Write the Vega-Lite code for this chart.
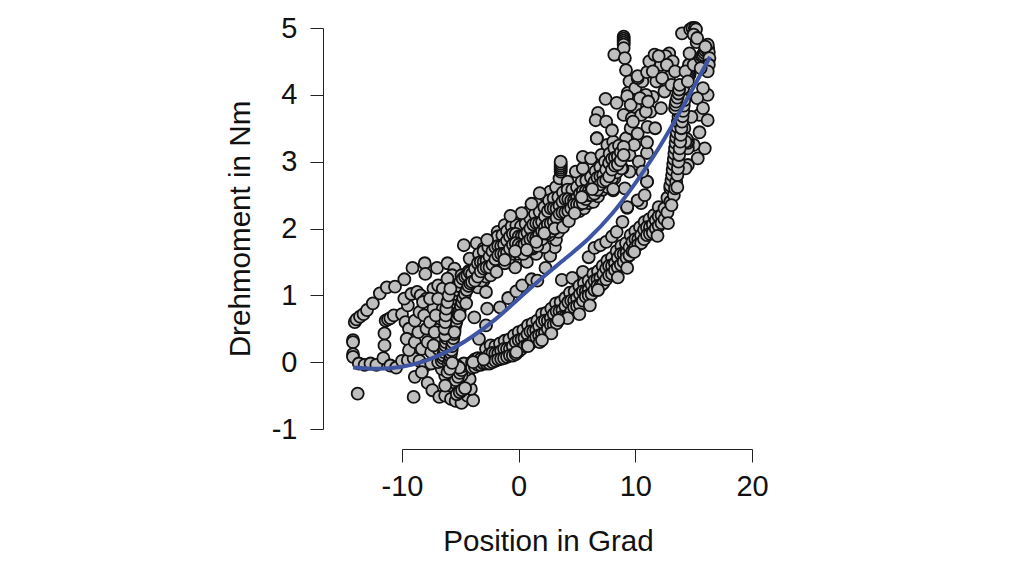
{"$schema":"https://vega.github.io/schema/vega-lite/v6.json","autosize":{"type":"none"},"padding":{"left":402,"top":28,"right":272,"bottom":147},"width":350,"height":401,"background":"white","config":{"view":{"stroke":null}},"datasets":{"pts":[
{"x":-14.05,"y":0.6},{"x":-13.9,"y":0.64},{"x":-13.6,"y":0.68},{"x":-13.3,"y":0.72},{"x":-13,"y":0.78},{"x":-12.5,"y":0.88},{"x":-11.9,"y":1.03},{"x":-11.3,"y":1.12},{"x":-10.6,"y":1.13},{"x":-9.8,"y":1.24},{"x":-9.1,"y":1.41},{"x":-8.05,"y":1.48},{"x":-8,"y":1.32},{"x":-7,"y":1.41},{"x":-6.1,"y":1.48},{"x":-5.5,"y":1.4},{"x":-4.7,"y":1.75},{"x":-3.6,"y":1.78},{"x":-4.2,"y":1.55},{"x":-3,"y":1.7},
{"x":-14.2,"y":0.33},{"x":-14.2,"y":0.3},{"x":-14.2,"y":0.12},{"x":-14.2,"y":0.08},{"x":-13.8,"y":-0.47},{"x":-9,"y":-0.52},{"x":-13.7,"y":-0.02},{"x":-13.2,"y":-0.04},{"x":-12.7,"y":-0.02},{"x":-12.2,"y":-0.04},{"x":-11.6,"y":0.06},{"x":-11,"y":-0.05},{"x":-10.5,"y":-0.08},{"x":-10,"y":0.02},{"x":-9.5,"y":0.03},{"x":-9,"y":0.06},{"x":-8.5,"y":0.02},{"x":-8,"y":-0.05},{"x":-7.5,"y":-0.02},
{"x":-11.5,"y":0.25},{"x":-11.5,"y":0.43},{"x":-11.4,"y":0.62},{"x":-11.2,"y":0.64},{"x":-11,"y":0.66},{"x":-10.7,"y":0.7},{"x":-10,"y":0.72},{"x":-9.5,"y":0.85},{"x":-9.8,"y":0.95},{"x":-9.2,"y":1.02},{"x":-8.7,"y":1.05},{"x":-8.4,"y":1},{"x":-7.9,"y":0.95},{"x":-7.3,"y":1.1},{"x":-6.9,"y":1.15},
{"x":-9.7,"y":0.6},{"x":-9.4,"y":0.5},{"x":-9.6,"y":0.35},{"x":-9.4,"y":0.18},{"x":-8.9,"y":0.3},{"x":-8.6,"y":0.45},{"x":-8.9,"y":0.62},{"x":-8.5,"y":0.75},{"x":-8.1,"y":0.7},{"x":-7.9,"y":0.5},{"x":-8.3,"y":0.2},{"x":-7.8,"y":0.3},{"x":-7.5,"y":0.15},{"x":-7.6,"y":0.6},{"x":-7.3,"y":0.8},
{"x":-7.8,"y":-0.31},{"x":-8.9,"y":-0.22},{"x":-8.3,"y":-0.15},{"x":-7.4,"y":-0.42},{"x":-6.8,"y":-0.52},{"x":-6.3,"y":-0.5},{"x":-5.8,"y":-0.55},{"x":-5.4,"y":-0.58},{"x":-4.9,"y":-0.61},{"x":-4.4,"y":-0.5},{"x":-3.9,"y":-0.57},{"x":-4.1,"y":-0.4},{"x":-4.6,"y":-0.38},{"x":-4.2,"y":-0.25},{"x":-4.5,"y":-0.12},{"x":-4.9,"y":-0.2},{"x":-5.2,"y":-0.3},{"x":-5.5,"y":-0.15},{"x":-5.6,"y":-0.06},{"x":-5.6,"y":-0.11},{"x":-5.5,"y":-0.2},{"x":-6,"y":-0.3},{"x":-6.3,"y":-0.2},{"x":-6.6,"y":-0.1},{"x":-6.9,"y":0},
{"x":-3.8,"y":0.67},{"x":-2.7,"y":0.8},{"x":-1.6,"y":0.82},{"x":-0.9,"y":0.96},{"x":-0.2,"y":1.06},{"x":0.3,"y":1.15},{"x":1.1,"y":1.24},{"x":1.6,"y":1.22},{"x":2.3,"y":1.41},{"x":2.7,"y":1.59},{"x":3.1,"y":1.72},{"x":3.2,"y":1.83},{"x":3.4,"y":1.95},{"x":3.7,"y":1.23},{"x":4.6,"y":1.26},{"x":5.5,"y":1.35},{"x":6,"y":1.57},{"x":6.5,"y":1.71},{"x":7,"y":1.75},{"x":7.5,"y":1.8},{"x":8,"y":1.88},{"x":8.4,"y":1.95},{"x":8.9,"y":2.1},{"x":9.3,"y":2.31},{"x":10.5,"y":2.38},{"x":10.2,"y":2.42},{"x":10.8,"y":2.5},{"x":11,"y":2.7},{"x":-2.8,"y":0.55},{"x":-3.4,"y":0.35},
{"x":-6.9,"y":0.2},{"x":-6.8,"y":0.35},{"x":-6.8,"y":0.5},{"x":-6.7,"y":0.65},{"x":-6.5,"y":0.8},{"x":-6.4,"y":0.95},{"x":-6.2,"y":1.05},{"x":-5.9,"y":1.2},{"x":-5.7,"y":1.3},{"x":-4.6,"y":1.2},{"x":-4.9,"y":1.3},{"x":-3.8,"y":1.35},{"x":-3.4,"y":1.42},{"x":-4.3,"y":1.36},{"x":-2.9,"y":1.5},{"x":-3.5,"y":1.12},{"x":-3,"y":1.22},{"x":-2.8,"y":1.05},
{"x":-1.8,"y":1.95},{"x":-1.2,"y":2.05},{"x":-0.5,"y":2.1},{"x":0.2,"y":2.18},{"x":1,"y":2.28},{"x":1.6,"y":2.38},{"x":2.2,"y":2.5},{"x":2.7,"y":2.55},{"x":3.2,"y":2.62},{"x":3.5,"y":2.75},{"x":4.2,"y":2.7},{"x":4.9,"y":2.85},{"x":5.5,"y":2.9},{"x":5.5,"y":3.07},{"x":6.2,"y":3.05},{"x":6.7,"y":3.35},{"x":7.1,"y":3.1},{"x":7.6,"y":3.25},{"x":8.1,"y":3.3},{"x":3.6,"y":2.85},{"x":3.6,"y":2.88},{"x":3.6,"y":2.91},{"x":3.6,"y":2.94},{"x":3.6,"y":2.97},{"x":3.6,"y":3},{"x":-0.3,"y":1.42},{"x":0.7,"y":1.5},{"x":1.5,"y":1.62},{"x":2.2,"y":1.72},{"x":1.2,"y":1.7},{"x":2.6,"y":1.9},
{"x":9,"y":4.87},{"x":9,"y":4.84},{"x":9,"y":4.81},{"x":9,"y":4.78},{"x":9,"y":4.75},{"x":9,"y":4.7},{"x":8.2,"y":4.6},{"x":9.1,"y":4.55},{"x":9.2,"y":4.37},{"x":9.5,"y":4.2},{"x":9.35,"y":4.03},{"x":10,"y":4.1},{"x":9.3,"y":3.98},{"x":7.45,"y":3.94},{"x":8.4,"y":3.88},{"x":9,"y":3.7},{"x":6.8,"y":3.73},{"x":6.6,"y":3.62},{"x":7.5,"y":3.6},{"x":8,"y":3.47},{"x":6.7,"y":3.35},{"x":8.5,"y":3.1},{"x":11,"y":2.7},{"x":9.3,"y":2.32},{"x":8.2,"y":2.75},{"x":8.1,"y":2.57},{"x":9.1,"y":2.6},{"x":9.5,"y":2.85},{"x":9.5,"y":3.1},{"x":9.2,"y":3.35},{"x":9.6,"y":3.5},{"x":9.7,"y":3.65},{"x":10,"y":3.82},{"x":9.6,"y":3.85},{"x":10.2,"y":3.42},{"x":9.9,"y":3.25},{"x":10.3,"y":3},{"x":8.9,"y":2.9},{"x":10.6,"y":2.85},{"x":11,"y":3.13},{"x":11,"y":3.29},{"x":11.05,"y":3.52},{"x":10.5,"y":3.7},{"x":11.3,"y":3.75},{"x":11.5,"y":3.97},{"x":10.9,"y":4},{"x":10.6,"y":4.2},{"x":10.2,"y":4.25},{"x":10.2,"y":4.28},{"x":11,"y":4.34},{"x":11.8,"y":4.2},{"x":11.2,"y":4.5},{"x":11.65,"y":4.6},{"x":12.2,"y":4.45},{"x":12.9,"y":4.27},{"x":12.5,"y":4.05},{"x":12.9,"y":4.62},{"x":12.6,"y":4.58},{"x":13.2,"y":4.5},{"x":12.2,"y":3.8},{"x":11.7,"y":3.5},{"x":9.8,"y":3.6},{"x":10.4,"y":3.95},{"x":10.9,"y":3.75},{"x":11.5,"y":4.35},{"x":12.3,"y":4.25},{"x":12.7,"y":4.45},{"x":11.1,"y":3.9},{"x":12,"y":4.58},{"x":13.4,"y":4.35},{"x":13.1,"y":4.15},
{"x":16.2,"y":4},{"x":15.8,"y":4.1},{"x":15.3,"y":3.95},{"x":15.5,"y":3.7},{"x":15.8,"y":3.8},{"x":16.2,"y":3.62},{"x":14.8,"y":3.67},{"x":15.5,"y":3.44},{"x":15.95,"y":3.2},{"x":15.35,"y":3.05},{"x":15,"y":3.25},{"x":14.5,"y":2.95},{"x":14.3,"y":2.9},{"x":14.5,"y":3.2},{"x":14.2,"y":3.5},{"x":14.1,"y":3.75},{"x":14.5,"y":3.28},{"x":14.5,"y":3.31},{"x":14.4,"y":3.34},{"x":14.3,"y":3.3},
{"x":-8.2,"y":0.9},{"x":-7.6,"y":0.95},{"x":-7.1,"y":0.7},{"x":-7.2,"y":0.45},{"x":-7.3,"y":0.25},{"x":-6.5,"y":1.1},{"x":-6.9,"y":0.95},{"x":-6.1,"y":1.25},
{"x":-6.6,"y":0.02},{"x":-6.5,"y":0.06},{"x":-6.45,"y":0.1},{"x":-6.4,"y":0.15},{"x":-6.35,"y":0.2},{"x":-6.3,"y":0.25},{"x":-6.25,"y":0.3},{"x":-6.2,"y":0.36},{"x":-6.15,"y":0.42},{"x":-6.1,"y":0.48},{"x":-6.05,"y":0.54},{"x":-6,"y":0.6},{"x":-5.95,"y":0.66},{"x":-5.9,"y":0.72},{"x":-5.8,"y":0.78},{"x":-5.7,"y":0.84},{"x":-5.6,"y":0.9},{"x":-5.5,"y":0.96},{"x":-5.4,"y":1.02},{"x":-5.3,"y":1.08},{"x":-5.2,"y":1.14},{"x":-5,"y":1.2},{"x":-4.8,"y":1.25},{"x":-4.6,"y":1.28},{"x":-4.4,"y":1.3},{"x":-4.2,"y":1.34},
{"x":-6,"y":-0.02},{"x":-5.9,"y":0.03},{"x":-5.85,"y":0.08},{"x":-5.8,"y":0.13},{"x":-5.75,"y":0.18},{"x":-5.7,"y":0.24},{"x":-5.65,"y":0.3},{"x":-5.6,"y":0.36},{"x":-5.55,"y":0.42},{"x":-5.5,"y":0.48},{"x":-5.45,"y":0.54},{"x":-5.35,"y":0.6},{"x":-5.25,"y":0.66},{"x":-5.15,"y":0.72},{"x":-5.05,"y":0.78},{"x":-4.95,"y":0.84},{"x":-4.85,"y":0.9},{"x":-4.75,"y":0.96},{"x":-4.6,"y":1.02},{"x":-4.45,"y":1.08},{"x":-4.3,"y":1.14},{"x":-4.15,"y":1.18},
{"x":-6.3,"y":0.4},{"x":-6.35,"y":0.5},{"x":-6.3,"y":0.6},{"x":-6.25,"y":0.7},{"x":-6.2,"y":0.8},{"x":-6.1,"y":0.9},{"x":-6,"y":1},{"x":-5.85,"y":1.1},
{"x":-5.8,"y":-0.35},{"x":-5.6,"y":-0.3},{"x":-5.4,"y":-0.27},{"x":-5.2,"y":-0.22},{"x":-5.05,"y":-0.16},{"x":-4.9,"y":-0.12},{"x":-4.8,"y":-0.06},{"x":-4.7,"y":-0.02},{"x":-5.3,"y":-0.05},{"x":-5.1,"y":-0.08},{"x":-5.3,"y":-0.48},{"x":-5.05,"y":-0.45},{"x":-4.85,"y":-0.42},{"x":-6.3,"y":-0.35},{"x":-6.1,"y":-0.15},{"x":-5.9,"y":-0.1},
{"x":-3.4,"y":1.62},{"x":-3,"y":1.66},{"x":-2.6,"y":1.72},{"x":-2.2,"y":1.82},{"x":-1.8,"y":1.88},{"x":-1.4,"y":1.9},{"x":-1,"y":1.96},{"x":-0.6,"y":2.03},{"x":-0.2,"y":2.05},{"x":0.2,"y":2.03},{"x":0.6,"y":2.07},{"x":1,"y":2.15},{"x":1.4,"y":2.22},{"x":1.8,"y":2.25},{"x":2.2,"y":2.32},{"x":2.6,"y":2.42},{"x":3,"y":2.45},{"x":3.4,"y":2.47},{"x":3.8,"y":2.54},{"x":4.2,"y":2.58},{"x":4.6,"y":2.58},{"x":5,"y":2.62},{"x":5.4,"y":2.7},{"x":5.8,"y":2.72},{"x":6.2,"y":2.77},{"x":6.6,"y":2.86},{"x":7,"y":2.92},{"x":7.4,"y":3},{"x":7.8,"y":3.12},{"x":8.2,"y":3.2},{"x":8.6,"y":3.24},
{"x":-3.2,"y":1.22},{"x":-2.8,"y":1.28},{"x":-2.4,"y":1.3},{"x":-2,"y":1.4},{"x":-1.6,"y":1.48},{"x":-1.2,"y":1.48},{"x":-0.8,"y":1.56},{"x":-0.4,"y":1.62},{"x":0,"y":1.62},{"x":0.4,"y":1.62},{"x":0.8,"y":1.68},{"x":1.2,"y":1.72},{"x":1.6,"y":1.74},{"x":2,"y":1.84},{"x":2.4,"y":1.92},{"x":2.8,"y":1.96},{"x":3.2,"y":2.04},{"x":3.6,"y":2.1},{"x":4,"y":2.12},{"x":4.4,"y":2.18},{"x":4.8,"y":2.26},{"x":5.2,"y":2.26},{"x":5.6,"y":2.3},{"x":6,"y":2.38},{"x":6.4,"y":2.4},{"x":6.8,"y":2.48},{"x":7.2,"y":2.58},{"x":7.6,"y":2.62},{"x":8,"y":2.75},{"x":8.4,"y":2.84},{"x":8.8,"y":2.9},
{"x":-4,"y":1.32},{"x":-3.75,"y":1.4},{"x":-3.5,"y":1.48},{"x":-3.25,"y":1.5},{"x":-3,"y":1.5},{"x":-2.75,"y":1.52},{"x":-2.5,"y":1.58},{"x":-2.25,"y":1.66},{"x":-2,"y":1.72},{"x":-1.75,"y":1.74},{"x":-1.5,"y":1.74},{"x":-1.25,"y":1.76},{"x":-1,"y":1.82},{"x":-0.75,"y":1.88},{"x":-0.5,"y":1.92},{"x":-0.25,"y":1.92},{"x":0,"y":1.88},{"x":0.25,"y":1.88},{"x":0.5,"y":1.9},{"x":0.75,"y":1.94},{"x":1,"y":2},{"x":1.25,"y":2.06},{"x":1.5,"y":2.08},{"x":1.75,"y":2.08},{"x":2,"y":2.1},{"x":2.25,"y":2.18},{"x":2.5,"y":2.26},{"x":2.75,"y":2.3},{"x":3,"y":2.3},{"x":3.25,"y":2.3},{"x":3.5,"y":2.34},{"x":3.75,"y":2.4},{"x":4,"y":2.44},{"x":4.25,"y":2.44},{"x":4.5,"y":2.42},{"x":4.75,"y":2.42},{"x":5,"y":2.46},{"x":5.25,"y":2.52},{"x":5.5,"y":2.56},{"x":5.75,"y":2.56},{"x":6,"y":2.56},{"x":6.25,"y":2.62},{"x":6.5,"y":2.7},{"x":6.75,"y":2.76},{"x":7,"y":2.78},{"x":7.25,"y":2.8},{"x":7.5,"y":2.88},{"x":7.75,"y":2.98},{"x":8,"y":3.04},{"x":8.25,"y":3.06},{"x":8.5,"y":3.08},{"x":8.75,"y":3.14},{"x":9,"y":3.22},
{"x":-4,"y":1.2},{"x":-3.75,"y":1.22},{"x":-3.5,"y":1.28},{"x":-3.25,"y":1.36},{"x":-3,"y":1.4},{"x":-2.75,"y":1.42},{"x":-2.5,"y":1.42},{"x":-2.25,"y":1.46},{"x":-2,"y":1.54},{"x":-1.75,"y":1.6},{"x":-1.5,"y":1.62},{"x":-1.25,"y":1.62},{"x":-1,"y":1.64},{"x":-0.75,"y":1.7},{"x":-0.5,"y":1.76},{"x":-0.25,"y":1.78},{"x":0,"y":1.76},{"x":0.25,"y":1.74},{"x":0.5,"y":1.76},{"x":0.75,"y":1.8},{"x":1,"y":1.84},{"x":1.25,"y":1.86},{"x":1.5,"y":1.86},{"x":1.75,"y":1.9},{"x":2,"y":1.96},{"x":2.25,"y":2.02},{"x":2.5,"y":2.06},{"x":2.75,"y":2.08},{"x":3,"y":2.1},{"x":3.25,"y":2.16},{"x":3.5,"y":2.22},{"x":3.75,"y":2.24},{"x":4,"y":2.24},{"x":4.25,"y":2.26},{"x":4.5,"y":2.3},{"x":4.75,"y":2.36},{"x":5,"y":2.36},{"x":5.25,"y":2.36},{"x":5.5,"y":2.38},{"x":5.75,"y":2.44},{"x":6,"y":2.5},{"x":6.25,"y":2.5},{"x":6.5,"y":2.52},{"x":6.75,"y":2.58},{"x":7,"y":2.66},{"x":7.25,"y":2.7},{"x":7.5,"y":2.72},{"x":7.75,"y":2.78},{"x":8,"y":2.88},{"x":8.25,"y":2.94},{"x":8.5,"y":2.96},{"x":8.75,"y":3.02},{"x":9,"y":3.1},
{"x":-2.8,"y":0.2},{"x":-2.4,"y":0.25},{"x":-2,"y":0.24},{"x":-1.6,"y":0.28},{"x":-1.2,"y":0.32},{"x":-0.8,"y":0.34},{"x":-0.4,"y":0.4},{"x":0,"y":0.45},{"x":0.4,"y":0.48},{"x":0.8,"y":0.55},{"x":1.2,"y":0.58},{"x":1.6,"y":0.62},{"x":2,"y":0.72},{"x":2.4,"y":0.74},{"x":2.8,"y":0.8},{"x":3.2,"y":0.88},{"x":3.6,"y":0.9},{"x":4,"y":0.96},{"x":4.4,"y":1.04},{"x":4.8,"y":1.06},{"x":5.2,"y":1.14},{"x":5.6,"y":1.18},{"x":6,"y":1.22},{"x":6.4,"y":1.32},{"x":6.8,"y":1.36},{"x":7.2,"y":1.44},{"x":7.6,"y":1.52},{"x":8,"y":1.56},{"x":8.4,"y":1.66},{"x":8.8,"y":1.74},{"x":9.2,"y":1.78},{"x":9.6,"y":1.9},{"x":10,"y":1.96},{"x":10.4,"y":2.02},{"x":10.8,"y":2.1},{"x":11.2,"y":2.14},{"x":11.6,"y":2.2},{"x":12,"y":2.32},
{"x":-4,"y":0},{"x":-3.75,"y":0.04},{"x":-3.5,"y":0.06},{"x":-3.25,"y":0.05},{"x":-3,"y":0.04},{"x":-2.75,"y":0.07},{"x":-2.5,"y":0.12},{"x":-2.25,"y":0.14},{"x":-2,"y":0.13},{"x":-1.75,"y":0.13},{"x":-1.5,"y":0.17},{"x":-1.25,"y":0.2},{"x":-1,"y":0.2},{"x":-0.75,"y":0.2},{"x":-0.5,"y":0.24},{"x":-0.25,"y":0.3},{"x":0,"y":0.33},{"x":0.25,"y":0.34},{"x":0.5,"y":0.36},{"x":0.75,"y":0.42},{"x":1,"y":0.46},{"x":1.25,"y":0.46},{"x":1.5,"y":0.48},{"x":1.75,"y":0.54},{"x":2,"y":0.6},{"x":2.25,"y":0.62},{"x":2.5,"y":0.62},{"x":2.75,"y":0.66},{"x":3,"y":0.72},{"x":3.25,"y":0.76},{"x":3.5,"y":0.76},{"x":3.75,"y":0.78},{"x":4,"y":0.84},{"x":4.25,"y":0.9},{"x":4.5,"y":0.92},{"x":4.75,"y":0.92},{"x":5,"y":0.96},{"x":5.25,"y":1.02},{"x":5.5,"y":1.06},{"x":5.75,"y":1.06},{"x":6,"y":1.08},{"x":6.25,"y":1.16},{"x":6.5,"y":1.22},{"x":6.75,"y":1.24},{"x":7,"y":1.26},{"x":7.25,"y":1.32},{"x":7.5,"y":1.4},{"x":7.75,"y":1.44},{"x":8,"y":1.44},{"x":8.25,"y":1.48},{"x":8.5,"y":1.56},{"x":8.75,"y":1.62},{"x":9,"y":1.62},{"x":9.25,"y":1.64},{"x":9.5,"y":1.72},{"x":9.75,"y":1.8},{"x":10,"y":1.84},{"x":10.25,"y":1.84},{"x":10.5,"y":1.9},{"x":10.75,"y":1.98},{"x":11,"y":2.02},{"x":11.25,"y":2.02},{"x":11.5,"y":2.06},{"x":11.75,"y":2.12},{"x":12,"y":2.18},{"x":12.25,"y":2.2},{"x":12.5,"y":2.3},{"x":12.75,"y":2.46},{"x":13,"y":2.6},
{"x":-4,"y":-0.08},{"x":-3.75,"y":-0.07},{"x":-3.5,"y":-0.04},{"x":-3.25,"y":-0.04},{"x":-3,"y":-0.02},{"x":-2.75,"y":-0.02},{"x":-2.5,"y":-0.02},{"x":-2.25,"y":0},{"x":-2,"y":0.02},{"x":-1.75,"y":0.04},{"x":-1.5,"y":0.05},{"x":-1.25,"y":0.06},{"x":-1,"y":0.08},{"x":-0.75,"y":0.1},{"x":-0.5,"y":0.1},{"x":-0.25,"y":0.12},{"x":0,"y":0.16},{"x":0.25,"y":0.2},{"x":0.5,"y":0.24},{"x":0.75,"y":0.26},{"x":1,"y":0.28},{"x":1.25,"y":0.32},{"x":1.5,"y":0.38},{"x":1.75,"y":0.4},{"x":2,"y":0.42},{"x":2.25,"y":0.44},{"x":2.5,"y":0.5},{"x":2.75,"y":0.56},{"x":3,"y":0.56},{"x":3.25,"y":0.58},{"x":3.5,"y":0.64},{"x":3.75,"y":0.68},{"x":4,"y":0.68},{"x":4.25,"y":0.7},{"x":4.5,"y":0.76},{"x":4.75,"y":0.82},{"x":5,"y":0.84},{"x":5.25,"y":0.86},{"x":5.5,"y":0.92},{"x":5.75,"y":0.98},{"x":6,"y":1},{"x":6.25,"y":1.02},{"x":6.5,"y":1.08},{"x":6.75,"y":1.14},{"x":7,"y":1.14},{"x":7.25,"y":1.18},{"x":7.5,"y":1.24},{"x":7.75,"y":1.3},{"x":8,"y":1.32},{"x":8.25,"y":1.38},{"x":8.5,"y":1.42},{"x":8.75,"y":1.46},{"x":9,"y":1.5},{"x":9.25,"y":1.56},{"x":9.5,"y":1.6},{"x":9.75,"y":1.66},{"x":10,"y":1.72},{"x":10.25,"y":1.76},{"x":10.5,"y":1.78},{"x":10.75,"y":1.84},{"x":11,"y":1.9},{"x":11.25,"y":1.92},{"x":11.5,"y":1.94},{"x":11.75,"y":2},{"x":12,"y":2.04},{"x":12.25,"y":2.08},{"x":12.5,"y":2.14},{"x":12.75,"y":2.24},{"x":13,"y":2.4},
{"x":13,"y":2.64},{"x":13.1,"y":2.72},{"x":13.15,"y":2.8},{"x":13.2,"y":2.88},{"x":13.25,"y":2.96},{"x":13.3,"y":3.04},{"x":13.35,"y":3.12},{"x":13.4,"y":3.2},{"x":13.45,"y":3.28},{"x":13.5,"y":3.36},{"x":13.55,"y":3.44},{"x":13.6,"y":3.52},{"x":13.65,"y":3.6},{"x":13.7,"y":3.68},{"x":13.75,"y":3.74},{"x":13.8,"y":3.8},{"x":13.85,"y":3.86},{"x":13.9,"y":3.92},{"x":14,"y":3.98},{"x":14.05,"y":4.04},{"x":14.1,"y":4.1},
{"x":13.3,"y":2.5},{"x":13.4,"y":2.6},{"x":13.5,"y":2.7},{"x":13.6,"y":2.8},{"x":13.65,"y":2.9},{"x":13.7,"y":3},{"x":13.75,"y":3.1},{"x":13.8,"y":3.2},{"x":13.85,"y":3.3},{"x":13.9,"y":3.4},{"x":13.95,"y":3.5},{"x":14,"y":3.6},{"x":14.05,"y":3.68},{"x":14.1,"y":3.76},{"x":14.15,"y":3.84},{"x":14.2,"y":3.92},
{"x":13.4,"y":3.8},{"x":13.45,"y":3.85},{"x":13.5,"y":3.9},{"x":13.6,"y":3.96},{"x":13.7,"y":4.02},{"x":13.75,"y":4.08},{"x":13.8,"y":4.15},{"x":14.65,"y":4.3},{"x":14.65,"y":4.33},{"x":14.65,"y":4.36},{"x":14.65,"y":4.39},{"x":14.65,"y":4.42},{"x":14.6,"y":4.45},{"x":14.3,"y":4.35},{"x":14.5,"y":4.2},{"x":15,"y":4.45},{"x":14.65,"y":4.62},{"x":15.25,"y":4.79},{"x":14,"y":4.92},{"x":14.7,"y":4.98},{"x":14.9,"y":5},{"x":15.1,"y":5},{"x":15.2,"y":4.98},{"x":15,"y":4.9},{"x":15.3,"y":4.85},{"x":15.6,"y":4.55},{"x":15.7,"y":4.58},{"x":15.8,"y":4.6},{"x":15.9,"y":4.63},{"x":16,"y":4.66},{"x":16.1,"y":4.69},{"x":16.2,"y":4.72},{"x":16.25,"y":4.68},{"x":16.3,"y":4.64},{"x":16.2,"y":4.75},{"x":16,"y":4.72},{"x":16.35,"y":4.55},{"x":16.3,"y":4.45},{"x":16.2,"y":4.35},{"x":15.6,"y":4.4},
{"x":6.1,"y":0.85},{"x":5.2,"y":0.72},{"x":4.2,"y":0.66},{"x":3.4,"y":0.63},{"x":0.8,"y":0.24},{"x":-0.2,"y":0.15},{"x":2.8,"y":0.43},{"x":1.8,"y":0.3},{"x":6.8,"y":1.08},{"x":8.5,"y":1.27},{"x":9.3,"y":1.41},{"x":9.9,"y":1.65},{"x":11.9,"y":1.89},{"x":12.8,"y":2.08},{"x":13.1,"y":2.35},{"x":13.6,"y":2.62},
{"x":-1.2,"y":1.53},{"x":-0.3,"y":1.66},{"x":0.7,"y":1.68},{"x":1.5,"y":1.8},{"x":2.2,"y":1.93},{"x":3.1,"y":2},{"x":3.8,"y":2.02},{"x":4.3,"y":2.11},{"x":4.8,"y":2.23},{"x":5.4,"y":2.47},{"x":6.3,"y":2.59},{"x":8.1,"y":2.59},{"x":1.8,"y":2.53},{"x":1.1,"y":2.37},{"x":0.25,"y":2.23},{"x":-0.7,"y":2.19},
{"x":-1.9,"y":1.35},{"x":-2.7,"y":1.83},{"x":-4.5,"y":0.88},{"x":-5.05,"y":0.7},{"x":-5.5,"y":0.45},{"x":-5.7,"y":-0.01},{"x":-3.9,"y":0},{"x":-3,"y":0.04},{"x":-4.6,"y":-0.39},{"x":2,"y":0.33}
],"fit":[{"x":-14.2,"y":-0.08},{"x":-12,"y":-0.1},{"x":-10,"y":-0.07},{"x":-8,"y":0.02},{"x":-6,"y":0.17},{"x":-4,"y":0.38},{"x":-2,"y":0.64},{"x":0,"y":0.95},{"x":2,"y":1.26},{"x":4,"y":1.55},{"x":6,"y":1.85},{"x":8,"y":2.22},{"x":10,"y":2.68},{"x":12,"y":3.2},{"x":14,"y":3.8},{"x":16.4,"y":4.57}]},
"layer":[
{"data":{"name":"pts"},"mark":{"type":"point","filled":false,"fill":"#bebebe","fillOpacity":1,"stroke":"#111111","strokeWidth":1.8,"strokeOpacity":1,"size":145,"shape":"circle","clip":false},
"encoding":{"x":{"field":"x","type":"quantitative","scale":{"domain":[-10,20],"nice":false,"zero":false},
"axis":{"values":[-10,0,10,20],"labelExpr":"'' + datum.value","offset":20,"grid":false,"title":"Position in Grad","titleFont":"Liberation Sans","titleFontSize":29.6,"titleFontWeight":"normal","titleColor":"#111111","titleX":146,"titleY":92,"titleAlign":"center","titleBaseline":"middle","labelFont":"Liberation Sans","labelFontSize":29,"labelColor":"#111111","labelPadding":10,"tickSize":13,"tickColor":"#222222","domainColor":"#222222","labelFlush":false,"labelOverlap":false}},
"y":{"field":"y","type":"quantitative","scale":{"domain":[-1,5],"nice":false,"zero":false},
"axis":{"values":[-1,0,1,2,3,4,5],"labelExpr":"'' + datum.value","offset":79,"grid":false,"title":"Drehmoment in Nm","titleFont":"Liberation Sans","titleFontSize":29.6,"titleFontWeight":"normal","titleColor":"#111111","titlePadding":16,"labelFont":"Liberation Sans","labelFontSize":29,"labelColor":"#111111","labelPadding":13,"tickSize":13,"tickColor":"#222222","domainColor":"#222222","labelOverlap":false,"labelBaseline":"middle"}}}},
{"data":{"name":"fit"},"mark":{"type":"line","color":"#3f55a3","strokeWidth":4,"interpolate":"monotone","clip":false},
"encoding":{"x":{"field":"x","type":"quantitative"},"y":{"field":"y","type":"quantitative"}}}
]}
